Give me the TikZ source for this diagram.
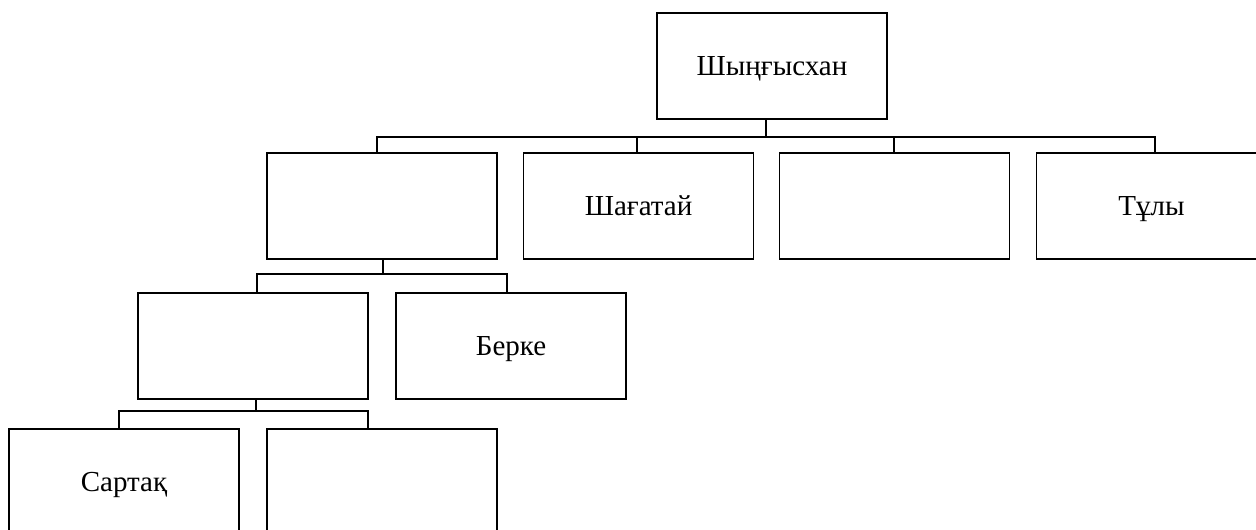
\documentclass[tikz,border=0pt]{standalone}
\usepackage{fontspec}
\setmainfont{Liberation Serif}
\usepackage{tikz}

\tikzset{
  member/.style={draw, line width=0.9pt, minimum width=4.6cm, minimum height=2.13cm,
    inner sep=0pt, text height=11pt, text depth=0pt,
    font=\fontsize{16.5}{19}\selectfont},
  link/.style={line width=0.9pt, line join=miter}
}

\begin{document}
\begin{tikzpicture}[x=0.02cm, y=-0.02cm]
  \clip (0,0) rectangle (1256,529);

  % Top
  \node[member] (khan) at (772,66) {Шыңғысхан};

  % Sons
  \node[member] (r2a) at (382,206) {};
  \node[member] (r2b) at (638.5,206) {Шағатай};
  \node[member] (r2c) at (894.5,206) {};
  \node[member] (r2d) at (1151.5,206) {Тұлы};

  % Grandsons
  \node[member] (r3a) at (253,346) {};
  \node[member] (r3b) at (511,346) {Берке};

  % Great-grandsons
  \node[member] (r4a) at (124,482) {Сартақ};
  \node[member] (r4b) at (382,482) {};

  % Bus under the top box
  \coordinate (s1) at (766,137);
  \coordinate (a1) at (377,137);
  \coordinate (a4) at (1155,137);
  \draw[link] (khan.south -| s1) -- (s1);
  \draw[link] (r2a.north -| a1) -- (a1) -- (a4) -- (r2d.north -| a4);
  \foreach \n/\xx in {r2b/637, r2c/894}{
    \coordinate (drop) at (\xx,137);
    \draw[link] (drop) -- (\n.north -| drop);
  }

  % Bus under r2a
  \coordinate (s2) at (383,274);
  \coordinate (b1) at (257,274);
  \coordinate (b2) at (507,274);
  \draw[link] (r2a.south -| s2) -- (s2);
  \draw[link] (r3a.north -| b1) -- (b1) -- (b2) -- (r3b.north -| b2);

  % Bus under r3a
  \coordinate (s3) at (256,411);
  \coordinate (c1) at (119,411);
  \coordinate (c2) at (368,411);
  \draw[link] (r3a.south -| s3) -- (s3);
  \draw[link] (r4a.north -| c1) -- (c1) -- (c2) -- (r4b.north -| c2);
\end{tikzpicture}
\end{document}
